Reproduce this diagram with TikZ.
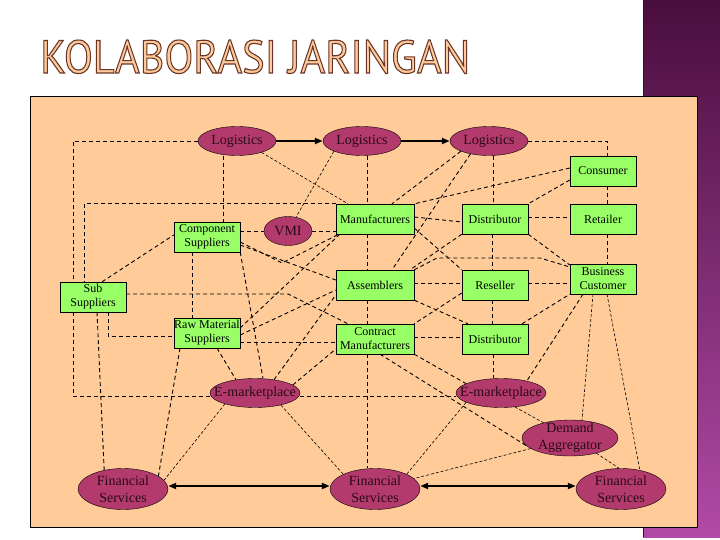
\documentclass[tikz,border=0pt]{standalone}
\usepackage{fontspec}
\setmainfont{Liberation Serif}
\newfontfamily\titlefont{PT Sans}
\usetikzlibrary{shapes.geometric,arrows.meta}

\definecolor{sheet}{HTML}{FFCC99}
\definecolor{boxgreen}{HTML}{99FF66}
\definecolor{ovalred}{HTML}{B33A6C}
\definecolor{ovalink}{HTML}{2A0A14}
\definecolor{bandtop}{HTML}{4A0E3E}
\definecolor{bandbot}{HTML}{B04AA6}
\definecolor{titlefill}{HTML}{FDCB9B}
\definecolor{titleedge}{HTML}{6A3426}
\newcommand{\outlined}[1]{\textcolor{titlefill}{\special{pdf:literal direct 2 Tr 1.1 w 0.416 0.204 0.149 RG}#1\special{pdf:literal direct 0 Tr}}}

\tikzset{
  unit/.style={draw=black, fill=boxgreen, minimum width=66pt, minimum height=30pt,
    inner sep=0pt, align=center, font=\fontsize{12}{14}\selectfont},
  wideunit/.style={unit, minimum width=78pt},
  oval/.style={ellipse, draw=black, fill=ovalred, inner sep=0pt,
    minimum width=78pt, minimum height=29pt},
  bigoval/.style={oval, minimum width=90pt, minimum height=41pt},
  ovaltext/.style={inner sep=0pt, align=center, text=ovalink, font=\fontsize{14}{17}\selectfont},
  dline/.style={draw=black, line width=0.9pt, dash pattern=on 4pt off 3pt},
  fline/.style={draw=black, line width=0.6pt, dash pattern=on 3pt off 2pt},
  flow/.style={draw=black, line width=2pt}
}

\begin{document}
\begin{tikzpicture}[x=1pt,y=-1pt]
    \useasboundingbox (0,0) rectangle (720,540);
    \fill[white] (0,0) rectangle (720,540);
    \shade[top color=bandtop, bottom color=bandbot] (643,0) rectangle (720,537);
    \draw[bandtop!70!black, line width=1.2pt] (643.5,0) -- (643.5,537);
    \draw[fill=sheet, line width=0.8pt] (30,96) rectangle (697,527);

    \node[anchor=base west, inner sep=0pt] (title) at (40,73)
        {\resizebox{430pt}{33pt}{\titlefont\fontsize{46}{46}\selectfont\outlined{KOLABORASI JARINGAN}}};

    \node[oval, label={[ovaltext]center:Logistics}] (lgA) at (237,141) {};
    \node[oval, label={[ovaltext]center:Logistics}] (lgB) at (362,141) {};
    \node[oval, label={[ovaltext]center:Logistics}] (lgC) at (489,141) {};

    \node[unit] (consumer) at (603,171) {Consumer};
    \node[unit] (retailer) at (603,219) {Retailer};
    \node[unit] (distA) at (495,219) {Distributor};
    \node[wideunit] (manuf) at (375,219) {Manufacturers};
    \node[oval, minimum width=48pt, label={[ovaltext]center:VMI}] (vmi) at (288,231) {};
    \node[unit] (compsup) at (207,237) {Component\\Suppliers};
    \node[wideunit] (assem) at (375,285) {Assemblers};
    \node[unit] (resell) at (495,285) {Reseller};
    \node[unit] (bizcust) at (603,279) {Business\\Customer};
    \node[unit] (subsup) at (93,297) {Sub\\Suppliers};
    \node[unit] (rawmat) at (207,333) {Raw Material\\Suppliers};
    \node[wideunit] (contract) at (375,339) {Contract\\Manufacturers};
    \node[unit] (distB) at (495,339) {Distributor};

    \node[oval, minimum width=90pt, label={[ovaltext]center:E-marketplace}] (emA) at (255,393) {};
    \node[oval, minimum width=90pt, label={[ovaltext]center:E-marketplace}] (emB) at (501,393) {};
    \node[oval, minimum width=96pt, minimum height=36pt, label={[ovaltext]center:Demand\\Aggregator}] (demand) at (570,438) {};
    \node[bigoval, label={[ovaltext]center:Financial\\Services}] (finA) at (123,489) {};
    \node[bigoval, label={[ovaltext]center:Financial\\Services}] (finB) at (375,489) {};
    \node[bigoval, label={[ovaltext]center:Financial\\Services}] (finC) at (621,489) {};

    \draw[flow, -{Triangle[length=8pt,width=6pt]}] (lgA.east) -- (lgB.west);
    \draw[flow, -{Triangle[length=8pt,width=6pt]}] (lgB.east) -- (lgC.west);
    \draw[flow, {Triangle[length=8pt,width=6pt]}-{Triangle[length=8pt,width=6pt]}] ([yshift=3pt]finA.east) -- ([yshift=3pt]finB.west);
    \draw[flow, {Triangle[length=8pt,width=6pt]}-{Triangle[length=8pt,width=6pt]}] ([yshift=3pt]finB.east) -- ([yshift=3pt]finC.west);

    \draw[dline] (lgA.west) -| ([xshift=-20pt]subsup.north);
    \draw[dline] ([xshift=-20pt]subsup.south) |- ([yshift=-3pt]emA.west);
    \draw[dline] (manuf.north west) -| ([xshift=-9pt]subsup.north);
    \draw[dline] ([xshift=-14pt]lgA.south) -- ([xshift=16pt]compsup.north);
    \draw[fline] (lgA.-25) -- ([xshift=-27pt]manuf.north);
    \draw[fline] (lgB.-160) -- (vmi.60);
    \draw[dline] ([xshift=5pt]lgB.south) -- ([xshift=-8pt]manuf.north);
    \draw[dline] (lgC.-160) -- ([xshift=17pt]manuf.north);
    \draw[dline] (lgC.-145) -- ([xshift=17pt]assem.north);
    \draw[dline] ([xshift=4pt]lgC.south) -- ([xshift=-2pt]distA.north);
    \draw[dline] (lgC.east) -| ([xshift=4pt]consumer.north);
    \draw[dline] ([yshift=3pt]consumer.west) -- (manuf.north east);
    \draw[dline] ([yshift=-9pt]consumer.west) -- (distA.north east);
    \draw[dline] ([xshift=4pt]consumer.south) -- ([xshift=4pt]retailer.north);
    \draw[dline] ([xshift=4pt]retailer.south) -- ([xshift=4pt]bizcust.north);
    \draw[dline] ([yshift=2pt]distA.east) -- ([yshift=2pt]retailer.west);
    \draw[dline] ([yshift=2pt]manuf.east) -- ([yshift=-3pt]distA.west);
    \draw[dline] ([yshift=-9pt]manuf.east) -- (resell.north west);
    \draw[dline] ([xshift=-3pt]distA.south) -- ([xshift=-3pt]resell.north);
    \draw[dline] (distA.south east) -- ([yshift=14pt]bizcust.west);
    \draw[dline] (distA.south west) -- ([xshift=35pt]assem.north);
    \draw[dline] ([xshift=-8pt]manuf.south) -- ([xshift=-8pt]assem.north);
    \draw[dline] ([xshift=-8pt]assem.south) -- ([xshift=-8pt]contract.north);
    \draw[dline] ([xshift=-8pt]contract.south) -- ([xshift=-8pt]finB.north);
    \draw[dline] (assem.north east) -- (437,258) -- (540,258) -- ([yshift=12pt]bizcust.west);
    \draw[dline] ([yshift=2pt]assem.east) -- ([yshift=2pt]resell.west);
    \draw[dline] ([yshift=2pt]resell.east) -- ([yshift=-4pt]bizcust.west);
    \draw[dline] (assem.south east) -- ([xshift=-27pt]distB.north);
    \draw[dline] ([yshift=-8pt]resell.west) -- (contract.north east);
    \draw[dline] ([xshift=-3pt]resell.south) -- ([xshift=-3pt]distB.north);
    \draw[dline] ([xshift=27pt]distB.north) -- (bizcust.south west);
    \draw[dline] ([yshift=2pt]contract.east) -- ([yshift=2pt]distB.west);
    \draw[dline] ([xshift=-2pt]distB.south) -- ([xshift=-8pt]emB.north);
    \draw[dline] (contract.south east) -- (emB.165);
    \draw[dline] ([xshift=5pt]contract.south) -- (demand.190);
    \draw[dline] ([xshift=-20pt]bizcust.south) -- (emB.25);
    \draw[fline] ([xshift=-10pt]bizcust.south) -- ([xshift=12pt]demand.north);
    \draw[fline] ([xshift=4pt]bizcust.south) -- (finC.45);
    \draw[fline] (demand.-30) -- (finC.95);
    \draw[fline] (emB.-45) -- (demand.150);
    \draw[fline] (emB.-165) -- (finB.25);
    \draw[fline] (demand.-165) -- (finB.15);
    \draw[dline] ([yshift=-3pt]emA.east) -- ([yshift=-3pt]emB.west);
    \draw[fline] (emA.-25) -- (finB.155);
    \draw[fline] (emA.-160) -- (finA.12);
    \draw[dline] ([xshift=-27pt]rawmat.south) -- (finA.20);
    \draw[dline] ([xshift=4pt]subsup.south) -- (finA.135);
    \draw[dline] ([xshift=15pt]subsup.south) |- ([yshift=-3pt]rawmat.west);
    \draw[dline] ([yshift=3pt]subsup.east) -- (288,294) -- ([xshift=-27pt]contract.north);
    \draw[dline] ([xshift=9pt]subsup.north) -- ([yshift=2pt]compsup.west);
    \draw[dline] ([xshift=-15pt]compsup.south) -- ([xshift=-15pt]rawmat.north);
    \draw[dline] ([yshift=-5pt]compsup.east) -- (282,263) -- ([xshift=3pt]manuf.south west);
    \draw[dline] ([yshift=-8pt]compsup.east) -- ([yshift=5pt]assem.west);
    \draw[dline] (compsup.south east) -- ([xshift=8pt]emA.north);
    \draw[dline] (vmi.west -| compsup.east) -- (vmi.west);
    \draw[dline] (vmi.east) -- (vmi.east -| manuf.west);
    \draw[dline] ([yshift=5pt]rawmat.east) -- ([xshift=4pt]manuf.south west);
    \draw[dline] ([yshift=-2pt]rawmat.east) -- ([yshift=-5pt]assem.west);
    \draw[dline] ([yshift=-9pt]rawmat.east) -- ([yshift=-3pt]contract.west);
    \draw[dline] ([xshift=10pt]rawmat.south) -- (emA.145);
    \draw[dline] (emA.35) -- ([yshift=-10pt]assem.west);
    \draw[dline] (emA.12) -- ([yshift=-10pt]contract.west);
\end{tikzpicture}
\end{document}
